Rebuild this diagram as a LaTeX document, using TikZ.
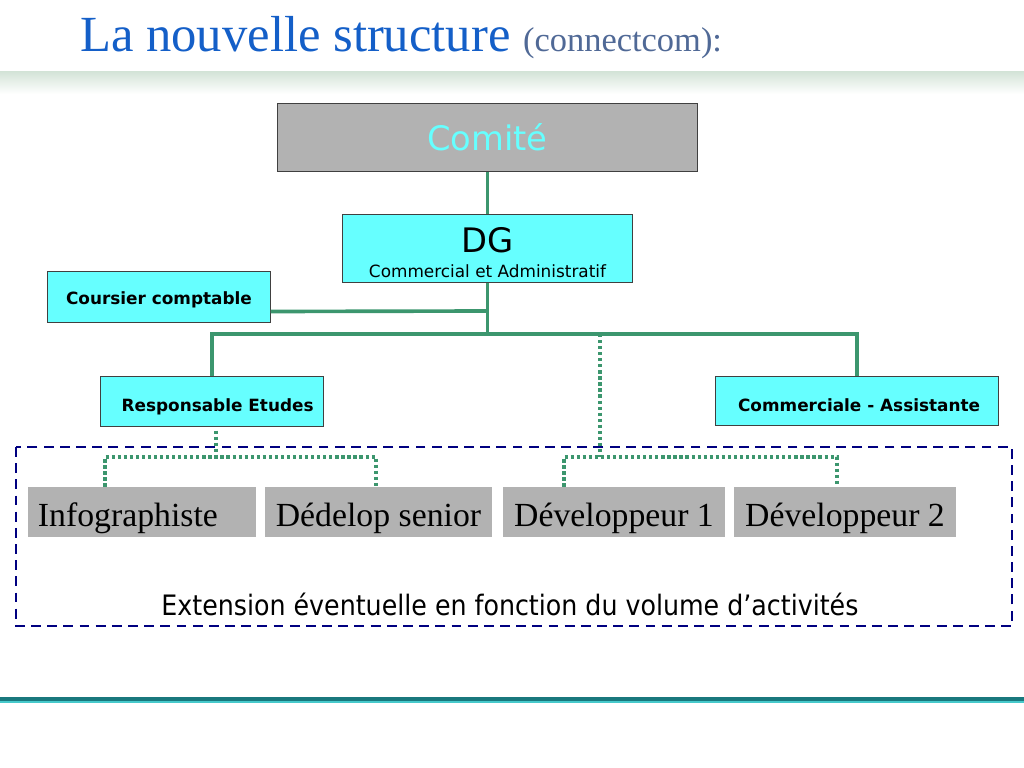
\documentclass[tikz,border=0pt]{standalone}
\usepackage{fontspec}
\setmainfont{Liberation Serif}
\setsansfont{DejaVu Sans}
\newfontfamily\etroite{DejaVu Sans Condensed}
\usetikzlibrary{calc}
\definecolor{bleutitre}{RGB}{20,95,200}
\definecolor{grisbleu}{RGB}{80,105,150}
\definecolor{cyanboite}{RGB}{102,255,255}
\definecolor{grisboite}{RGB}{178,178,178}
\definecolor{vertlien}{RGB}{60,150,110}
\definecolor{marine}{RGB}{0,0,128}
\definecolor{bandeau}{RGB}{212,228,216}
\definecolor{filet}{RGB}{25,120,125}

\begin{document}
\begin{tikzpicture}[x=0.025cm,y=-0.025cm,
  cadre/.style={draw=black!75,line width=0.7pt,fill=cyanboite,inner sep=0pt},
  boite/.style={cadre,text height=13.9pt,text depth=2.5pt,
    font=\sffamily\bfseries\fontsize{12}{14}\selectfont},
  poste/.style={fill=grisboite,inner sep=0pt,minimum height=1.25cm,
    minimum width=5.55cm,text height=26pt,text depth=5pt,font=\fontsize{24}{28}\selectfont},
  lien/.style={vertlien,line width=2.6pt},
  pointille/.style={vertlien,line width=2.3pt,dash pattern=on 2.3pt off 2pt}]
\useasboundingbox (0,0) rectangle (1024,768);

% titre et bandeau
\shade[top color=bandeau,bottom color=white] (0,72) rectangle (1024,94);
\node[anchor=base west,inner sep=0pt,text=bleutitre,font=\fontsize{36}{40}\selectfont]
  (titre) at (80,52) {La nouvelle structure {\color{grisbleu}\fontsize{24.5}{28}\selectfont(connectcom):}};

% boites
\node[draw=black!75,line width=0.7pt,fill=grisboite,minimum width=10.475cm,minimum height=1.675cm,
  text=cyanboite,font=\sffamily\fontsize{24}{28}\selectfont] (comite) at (487.5,137.5) {Comité};
\node[cadre,minimum width=7.225cm,minimum height=1.675cm,align=center,
  font=\sffamily\fontsize{12}{17.8}\selectfont] (dg) at (487.5,248.5)
  {{\fontsize{24}{17.8}\selectfont\rule{0pt}{23pt}DG}\\Commercial et Administratif};
\node[boite,minimum width=5.55cm,minimum height=1.275cm] (coursier) at (159,296.5) {Coursier comptable};
\node[boite,text height=18pt,minimum width=5.55cm,minimum height=1.25cm] (resp) at (212,401) {\hspace{8pt}Responsable Etudes};
\node[boite,text height=18pt,minimum width=7.05cm,minimum height=1.225cm] (comm) at (857,400.5) {\hspace{3pt}Commerciale - Assistante};

% liens pleins
\coordinate (bus) at (487.5,334);
\coordinate (cc) at (487.5,311);
\draw[lien] (comite.south) -- (dg.north);
\draw[lien] (dg.south) -- (bus);
\draw[lien] ($(coursier.south east)+(0,-11)$) -- (cc);
\draw[lien] (resp.north) |- (bus) -| (comm.north);

% extension
\draw[marine,line width=1.5pt,dash pattern=on 7pt off 4.5pt] (16,447) rectangle (1012,626);
\node[poste,minimum width=5.7cm,text width=5.2cm,align=left,inner xsep=0.25cm] (info) at (142,512) {Infographiste};
\node[poste,minimum width=5.675cm] (ded) at (378.5,512) {Dédelop senior};
\node[poste] (dev1) at (614,512) {Développeur 1};
\node[poste] (dev2) at (845,512) {Développeur 2};
\node[font=\etroite\fontsize{20}{24}\selectfont] (ext) at (510,604)
  {Extension éventuelle en fonction du volume d’activités};

% liens en pointilles
\coordinate (pd) at (600,334);
\coordinate (jd) at (600,457);
\coordinate (jg) at (564,457);
\coordinate (jr) at (837,457);
\coordinate (re) at (216,457);
\coordinate (ig) at (105,457);
\coordinate (ir) at (376,457);
\draw[pointille] (pd) -- (jd);
\draw[pointille] (dev1.north -| jg) -- (jg) -- (jr) -- (dev2.north -| jr);
\draw[pointille] ($(resp.south -| re)+(0,4)$) -- (re);
\draw[pointille] (info.north -| ig) -- (ig) -- (ir) -- (ded.north -| ir);

% filet du bas
\draw[filet,line width=2.2pt] (0,699) -- (1024,699);
\draw[cyanboite!60!filet,line width=1pt] (0,702) -- (1024,702);
\end{tikzpicture}
\end{document}
